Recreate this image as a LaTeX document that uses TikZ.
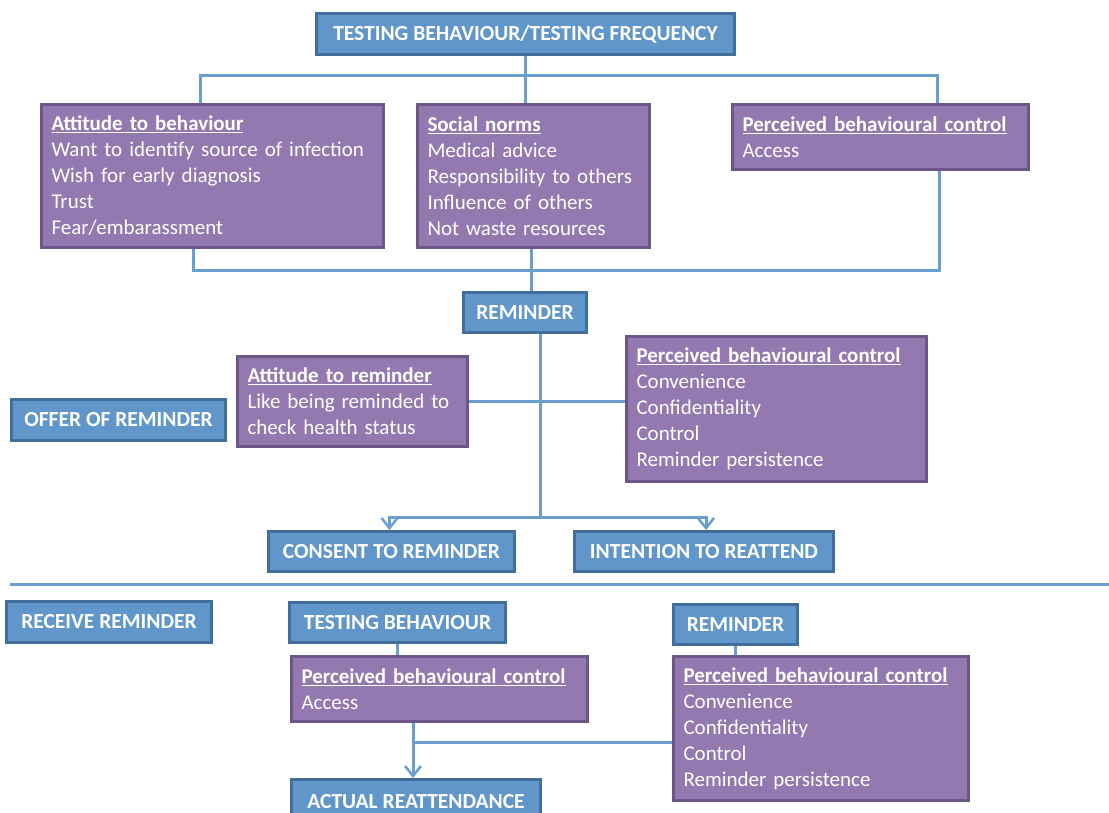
\documentclass[tikz,border=0pt]{standalone}
\usepackage{fontspec}
\setmainfont{Carlito}
\usetikzlibrary{arrows.meta,calc}
\definecolor{bfill}{RGB}{97,150,203}
\definecolor{bdraw}{RGB}{65,110,155}
\definecolor{pfill}{RGB}{147,121,176}
\definecolor{pdraw}{RGB}{107,88,137}
\definecolor{lcol}{RGB}{106,158,208}
\newcommand{\hd}[1]{\textbf{\underline{#1}}}
\tikzset{
  bbox/.style={draw=bdraw, fill=bfill, line width=3pt, text=white, font=\fontsize{21.5}{24}\selectfont\bfseries, anchor=north west, inner sep=0pt},
  pbox/.style={draw=pdraw, fill=pfill, line width=3pt, text=white, font=\fontsize{21}{26}\selectfont, anchor=north west, inner xsep=10pt, inner ysep=0pt, align=left},
  conn/.style={draw=lcol, line width=3pt},
  arr/.style={conn, -{Straight Barb[length=10pt,width=16pt,line width=2.5pt]}},
}
\begin{document}
\begin{tikzpicture}[x=1pt,y=-1pt]
\clip (0,0) rectangle (1109,812);
\fill[white] (0,0) rectangle (1109,812);
% blue boxes
\node[bbox, minimum width=418, minimum height=41] (top) at (315,12) {TESTING BEHAVIOUR/TESTING FREQUENCY};
\node[bbox, minimum width=123, minimum height=40] (rem) at (462,291) {REMINDER};
\node[bbox, minimum width=214, minimum height=41] (offer) at (10,398) {OFFER OF REMINDER};
\node[bbox, minimum width=246, minimum height=40] (cons) at (267,530) {CONSENT TO REMINDER};
\node[bbox, minimum width=259, minimum height=40] (int) at (573,530) {INTENTION TO REATTEND};
\node[bbox, minimum width=205, minimum height=41] (recv) at (5,600) {RECEIVE REMINDER};
\node[bbox, minimum width=216, minimum height=40] (tb) at (288,601) {TESTING BEHAVIOUR};
\node[bbox, minimum width=124, minimum height=40] (rem2) at (672,603) {REMINDER};
\node[bbox, minimum width=249, minimum height=46, anchor=north west] (act) at (290,778) {\raisebox{2pt}{ACTUAL REATTENDANCE}};
% purple boxes
\node[pbox, text width=322, minimum height=143] (att) at (40,103) {\hd{Attitude to behaviour}\\Want to identify source of infection\\Wish for early diagnosis\\Trust\\Fear/embarassment};
\node[pbox, text width=212, minimum height=143] (soc) at (416,103) {\hd{Social norms}\\Medical advice\\Responsibility to others\\Influence of others\\Not waste resources};
\node[pbox, text width=276, minimum height=65] (pbc1) at (731,103) {\hd{Perceived behavioural control}\\Access};
\node[pbox, text width=210, minimum height=90] (attr) at (236,355) {\hd{Attitude to reminder}\\Like being reminded to\\check health status};
\node[pbox, text width=280, minimum height=145] (pbc2) at (625,335) {\hd{Perceived behavioural control}\\Convenience\\Confidentiality\\Control\\Reminder persistence};
\node[pbox, text width=276, minimum height=65] (pbc3) at (290,655) {\hd{Perceived behavioural control}\\Access};
\node[pbox, text width=275, minimum height=144] (pbc4) at (672,655) {\hd{Perceived behavioural control}\\Convenience\\Confidentiality\\Control\\Reminder persistence};
% coordinates
\coordinate (hl) at (200,75);
\coordinate (hr) at (937,75);
\coordinate (bl) at (193,270);
\coordinate (br) at (939,270);
\coordinate (vx) at (531,270);
\coordinate (vr) at (540,0);
\coordinate (split) at (540,517);
\coordinate (sepL) at (10,584);
\coordinate (sepR) at (1109,584);
\coordinate (j) at (413,742);
% connectors
\draw[conn] (top.south) -- (soc.north -| top.south);
\draw[conn] (att.north -| hl) -- (hl) -- (hr) -- (pbc1.north -| hr);
\draw[conn] (att.south -| bl) -- (bl) -- (br) -- (pbc1.south -| br);
\draw[conn] (soc.south -| vx) -- (rem.north -| vx);
\draw[conn] (rem.south -| vr) -- (split);
\draw[arr] (split) -| ([xshift=-2pt]cons.north);
\draw[arr] (split) -| ([xshift=2pt]int.north);
\draw[conn] (attr.east) -- (pbc2.west |- attr.east);
\draw[conn] (sepL) -- (sepR);
\draw[conn] (tb.south) -- (pbc3.north -| tb.south);
\draw[conn] (rem2.south) -- (pbc4.north -| rem2.south);
\draw[arr] (pbc3.south -| j) -- (act.north -| j);
\draw[conn] (j) -- (pbc4.west |- j);
\end{tikzpicture}
\end{document}
